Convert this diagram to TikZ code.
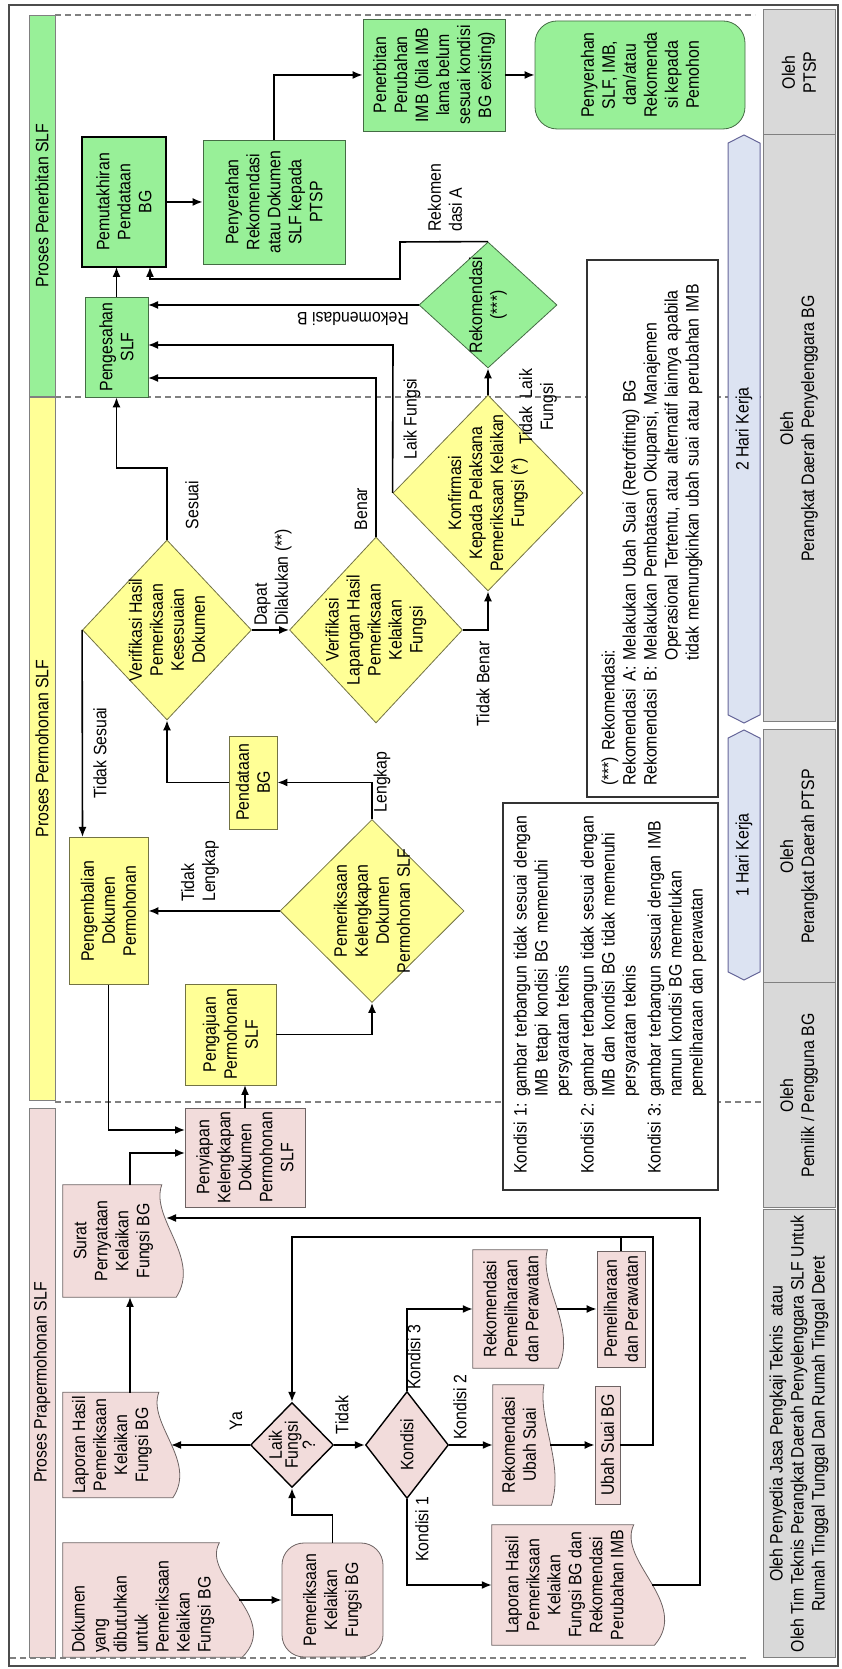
\documentclass[tikz,border=0pt]{standalone}
\usepackage{fontspec}
\setmainfont{Liberation Sans}[FakeStretch=0.88]
\usetikzlibrary{calc}
\usetikzlibrary{positioning}
\usetikzlibrary{shapes.geometric,shapes.symbols,arrows.meta,backgrounds}

\definecolor{hijau}{RGB}{152,240,152}
\definecolor{kuning}{RGB}{255,255,150}
\definecolor{merah}{RGB}{242,220,219}
\definecolor{abu}{RGB}{217,217,217}
\definecolor{biru}{RGB}{220,227,242}

\tikzset{
  every node/.style={font=\fontsize{18}{21}\selectfont, align=center, inner sep=1pt},
  sz/.style 2 args={minimum width=#1pt, minimum height=#2pt},
  kotak/.style={rectangle, fill=#1, draw=#1!45!black, line width=0.8pt},
  term/.style={kotak=#1, rounded corners=22pt},
  dok/.style={rectangle, inner sep=0pt},
  docline/.style={fill=merah, draw=merah!45!black, line width=0.8pt},
  dia/.style={diamond, fill=#1, draw=#1!45!black, line width=0.8pt, inner sep=-15pt},
  arr/.style={-{Latex[length=10pt,width=8pt]}, line width=1.6pt},
  garis/.style={line width=1.6pt},
  lbl/.style={inner sep=1pt},
  fase/.style={rectangle, fill=#1, draw=gray, line width=0.6pt, inner sep=0pt},
  oleh/.style={rectangle, fill=abu, draw=gray, line width=1pt, inner sep=0pt},
  hari/.style={signal, signal to=east and west, signal pointer angle=126,
    fill=biru, draw=gray!80!blue, line width=1pt, inner sep=0pt},
  sekat/.style={gray, dash pattern=on 6pt off 4pt, line width=1.4pt},
  ket/.style={rectangle, fill=white, draw=black!80, line width=1.2pt, align=left},
}

% dokumen: sisi bawah bergelombang
\newcommand\docshape[1]{%
  \filldraw[docline] (#1.north west) -- (#1.north east)
    -- ($(#1.north east)!0.976!(#1.south east)$)
    .. controls ($(#1.north west)!0.7!(#1.north east)+(#1.north west)!0.857!(#1.south west)-(#1.north west)$)
    and ($(#1.north west)!0.35!(#1.north east)+(#1.north west)!1.369!(#1.south west)-(#1.north west)$)
    .. ($(#1.north west)!1.119!(#1.south west)$) -- cycle;}

\begin{document}
\begin{tikzpicture}[x=1pt, y=-1pt, rotate=90, transform shape]
  \useasboundingbox (0,0) rectangle (1669,841);
  \draw[line width=2pt, gray!60!black] (3,9) rectangle (1664,838);
  \draw[sekat] (1654,55) -- (1654,755);
  \draw[sekat] (1272,55) -- (1272,763);
  \draw[sekat] (567,55) -- (567,763);
  \draw[sekat] (11,10) -- (11,747);

  \node[fase=hijau, sz={381}{26}] (fasepen) at (1463.5,42) {Proses Penerbitan SLF};
  \node[fase=kuning, sz={703}{26}] (faseper) at (920.5,42) {Proses Permohonan SLF};
  \node[fase=merah, sz={549}{26}] (fasepra) at (286.5,42) {Proses Prapermohonan SLF};

  \node[oleh, sz={125}{72}] (olehptsp) at (1596.5,799) {Oleh\\PTSP};
  \node[oleh, sz={587}{72}] (olehpd) at (1240.5,799) {Oleh\\Perangkat Daerah Penyelenggara BG};
  \node[oleh, sz={253}{72}] (olehpdptsp) at (812.5,799) {Oleh\\Perangkat Daerah PTSP};
  \node[oleh, sz={225}{72}] (olehpemilik) at (573.5,799) {Oleh\\Pemilik / Pengguna BG};
  \node[oleh, sz={448}{72}] (olehpenyedia) at (235,799) {Oleh Penyedia Jasa Pengkaji Teknis\ \ atau\\Oleh Tim Teknis Perangkat Daerah Penyelenggara SLF Untuk\\Rumah Tinggal Tunggal Dan Rumah Tinggal Deret};

  \node[hari, sz={588}{32}] (hari2) at (1240,744) {2 Hari Kerja};
  \node[hari, sz={250}{32}] (hari1) at (814,744) {1 Hari Kerja};

  % proses penerbitan SLF
  \node[kotak=hijau, sz={130}{84}, draw=black, line width=2.4pt] (pemut) at (1467,124) {Pemutakhiran\\Pendataan\\BG};
  \node[kotak=hijau, sz={124}{142}] (penyrek) at (1467,274) {Penyerahan\\Rekomendasi\\atau Dokumen\\SLF kepada\\PTSP};
  \node[kotak=hijau, sz={112}{142}] (penerbitan) at (1594,434) {Penerbitan\\Perubahan\\IMB (bila IMB\\lama belum\\sesuai kondisi\\BG existing)};
  \node[term=hijau, sz={108}{210}] (penyslf) at (1594,640) {Penyerahan\\SLF, IMB,\\dan/atau\\Rekomenda\\si kepada\\Pemohon};
  \node[kotak=hijau, sz={100}{63}] (pengesahan) at (1322,116.5) {Pengesahan\\SLF};
  \node[dia=hijau, sz={126}{138}] (rekom) at (1364,488) {Rekomendasi\\(***)};

  % proses permohonan SLF
  \node[dia=kuning, sz={180}{169}] (verhasil) at (1039,167) {Verifikasi Hasil\\Pemeriksaan\\Kesesuaian\\Dokumen};
  \node[dia=kuning, sz={186}{173}] (verlap) at (1039,376) {Verifikasi\\Lapangan Hasil\\Pemeriksaan\\Kelaikan\\Fungsi};
  \node[dia=kuning, sz={196}{190}] (konf) at (1176,488) {Konfirmasi\\Kepada Pelaksana\\Pemeriksaan Kelaikan\\Fungsi (*)};
  \node[kotak=kuning, sz={93}{48}] (pendataan) at (886.5,253) {Pendataan\\BG};
  \node[dia=kuning, sz={183}{184}] (kel) at (758,372) {Pemeriksaan\\Kelengkapan\\Dokumen\\Permohonan SLF};
  \node[kotak=kuning, sz={147}{79}] (pengembalian) at (758,108.5) {Pengembalian\\Dokumen\\Permohonan};
  \node[kotak=kuning, sz={101}{91}] (pengajuan) at (634.5,230.5) {Pengajuan\\Permohonan\\SLF};

  % proses prapermohonan SLF
  \node[kotak=merah, sz={99}{120}] (penyiapan) at (511.5,245) {Penyiapan\\Kelengkapan\\Dokumen\\Permohonan\\SLF};
  \node[dok, sz={112}{101}] (surat) at (428,113.5) {Surat\\Pernyataan\\Kelaikan\\Fungsi BG};
  \node[dok, sz={114}{160}, text width=106pt, align=left] (dokumen) at (69,143) {Dokumen\\yang\\dibutuhkan\\untuk\\Pemeriksaan\\Kelaikan\\Fungsi BG};
  \node[term=merah, sz={114}{101}] (pemeriksaan) at (69,332.5) {Pemeriksaan\\Kelaikan\\Fungsi BG};
  \node[dok, sz={105}{98}] (laporan) at (224,112) {Laporan Hasil\\Pemeriksaan\\Kelaikan\\Fungsi BG};
  \node[dia=merah, draw=black, line width=1.4pt, sz={85}{83}, font=\fontsize{18}{16}\selectfont] (laik) at (224,292) {Laik\\Fungsi\\?};
  \node[dia=merah, draw=black, line width=1.4pt, sz={107}{83}] (kondisi) at (224,407) {Kondisi};
  \node[dok, sz={120}{145}] (lapimb) at (84,564.5) {Laporan Hasil\\Pemeriksaan\\Kelaikan\\Fungsi BG dan\\Rekomendasi\\Perubahan IMB};
  \node[dok, sz={120}{52}] (rekubah) at (224,519) {Rekomendasi\\Ubah Suai};
  \node[kotak=merah, sz={118}{25}, inner sep=0pt] (ubahbg) at (224,607.5) {Ubah Suai BG};
  \node[dok, sz={118}{76}] (rekpem) at (360,511) {Rekomendasi\\Pemeliharaan\\dan Perawatan};
  \node[kotak=merah, sz={116}{48}] (pemel) at (360,621) {Pemeliharaan\\dan Perawatan};

  \begin{scope}[on background layer]
    \foreach \d in {dokumen,laporan,surat,lapimb,rekubah,rekpem} {\docshape{\d}}
  \end{scope}

  % keterangan
  \node[ket, sz={387}{215}, text width=355pt] (ketkondisi) at (672.5,610.5) {%
    \begin{tabular}{@{}l@{\ }l@{}}
      Kondisi 1: & gambar terbangun tidak sesuai dengan\\
                 & IMB tetapi kondisi BG memenuhi\\
                 & persyaratan teknis\\[4pt]
      Kondisi 2: & gambar terbangun tidak sesuai dengan\\
                 & IMB dan kondisi BG tidak memenuhi\\
                 & persyaratan teknis\\[4pt]
      Kondisi 3: & gambar terbangun sesuai dengan IMB\\
                 & namun kondisi BG memerlukan\\
                 & pemeliharaan dan perawatan
    \end{tabular}};
  \node[ket, sz={537}{131}, text width=515pt] (ketrekom) at (1140.5,652.5) {%
    \begin{tabular}{@{}l@{\hspace{8pt}}l@{\ }p{388pt}@{}}
      \multicolumn{3}{@{}l}{(***) Rekomendasi:}\\
      Rekomendasi & A: & Melakukan Ubah Suai (Retrofitting) BG\\
      Rekomendasi & B: & Melakukan Pembatasan Okupansi, Manajemen\linebreak
        Operasional Tertentu, atau alternatif lainnya apabila\linebreak
        tidak memungkinkan ubah suai atau perubahan IMB
    \end{tabular}};

  % titik masuk/keluar pada sisi simpul
  \coordinate (pemutIn1) at (1402,116.5);
  \coordinate (pemutIn2) at (1402,150);
  \coordinate (sahIn1) at (1291,148);
  \coordinate (sahIn2) at (1324,148);
  \coordinate (sahIn3) at (1364,148);
  \coordinate (kembaliIn) at (832,82.5);
  \coordinate (siapIn1) at (539,185);
  \coordinate (siapIn2) at (516,185);
  \coordinate (ajuIn) at (584,245);
  \coordinate (dokOut) at (69,239);
  \coordinate (laporanIn) at (224,171);
  \coordinate (laporanOut) at (276,130);
  \coordinate (suratIn) at (372,130);
  \coordinate (suratOut) at (484,130);
  \coordinate (suratIn2) at (451,166);
  \coordinate (lapimbOut) at (84,652);
  \coordinate (rekubahOut) at (224,550);
  \coordinate (rekpemOut) at (360,557);

  % alur penerbitan
  \draw[arr] (pemut.south) -- (penyrek.north);
  \draw[arr] (penyrek.east) -- (1594,274) -- (penerbitan.north);
  \draw[arr] (penerbitan.south) -- (penyslf.north);
  \draw[arr] (pengesahan.east) -- (pemutIn1);
  \draw[arr] (rekom.east) -- (1427,400) -- (1390,400) -- (1390,150) -- (pemutIn2);
  \draw[arr] (rekom.north) -- (sahIn3);
  \draw[arr] (konf.north) -- (1324,393) -- (sahIn2);
  \draw[arr] (verlap.east) -- (1291,376) -- (sahIn1);
  \draw[arr] (verhasil.east) -- (1201,167) -- (1201,116.5) -- (pengesahan.west);

  % alur permohonan
  \draw[arr] (verhasil.south) -- (verlap.north);
  \draw[arr] (verlap.south) -- (1039,488) -- (konf.west);
  \draw[arr] (konf.east) -- (rekom.west);
  \draw[arr] (pendataan.north) -- (886.5,167) -- (verhasil.west);
  \draw[arr] (kel.east) -- (886.5,372) -- (pendataan.south);
  \draw[arr] (kel.north) -- (pengembalian.south);
  \draw[arr] (verhasil.north) -- (kembaliIn);
  \draw[arr] (pengembalian.west) -- (539,108.5) -- (siapIn1);
  \draw[arr] (suratOut) -- (516,130) -- (siapIn2);
  \draw[arr] (penyiapan.east) -- (ajuIn);
  \draw[arr] (pengajuan.south) -- (634.5,372) -- (kel.west);

  % alur prapermohonan
  \draw[arr] (dokOut) -- (pemeriksaan.north);
  \draw[arr] (pemeriksaan.east) -- (154,332.5) -- (154,292) -- (laik.west);
  \draw[arr] (laik.north) -- (laporanIn);
  \draw[arr] (laporanOut) -- (suratIn);
  \draw[arr] (laik.south) -- (kondisi.north);
  \draw[arr] (kondisi.west) -- (84,407) -- (lapimb.north);
  \draw[arr] (kondisi.south) -- (rekubah.north);
  \draw[arr] (kondisi.east) -- (360,407) -- (rekpem.north);
  \draw[arr] (rekubahOut) -- (ubahbg.north);
  \draw[arr] (rekpemOut) -- (pemel.north);
  \draw[arr] (ubahbg.south) -- (224,653) -- (432,653) -- (432,292) -- (laik.east);
  \draw[garis] (pemel.east) -- (432,621);
  \draw[arr] (lapimbOut) -- (84,700) -- (451,700) -- (suratIn2);

  % label
  \node[lbl, anchor=west, align=left] (lblA) at (1436,445) {Rekomen\\dasi A};
  \node[lbl, rotate=90] (lblB) at (1350,353) {Rekomendasi B};
  \node[lbl] (lblLaik) at (1250,412) {Laik Fungsi};
  \node[lbl] (lblTLF) at (1262,538) {Tidak\ \ Laik\\Fungsi};
  \node[lbl] (lblBenar) at (1160,361) {Benar};
  \node[lbl] (lblSesuai) at (1164,192) {Sesuai};
  \node[lbl, anchor=west, align=left] (lblDapat) at (1042,273) {Dapat\\Dilakukan (**)};
  \node[lbl] (lblTB) at (985,483) {Tidak Benar};
  \node[lbl] (lblLengkap) at (887,382) {Lengkap};
  \node[lbl, anchor=west, align=left] (lblTL) at (766,200) {Tidak\\Lengkap};
  \node[lbl] (lblTS) at (916,100) {Tidak Sesuai};
  \node[lbl] (lblYa) at (248,236) {Ya};
  \node[lbl] (lblTidak) at (254,342) {Tidak};
  \node[lbl] (lblK1) at (140,422) {Kondisi 1};
  \node[lbl] (lblK2) at (262,460) {Kondisi 2};
  \node[lbl] (lblK3) at (312,414) {Kondisi 3};
\end{tikzpicture}
\end{document}
